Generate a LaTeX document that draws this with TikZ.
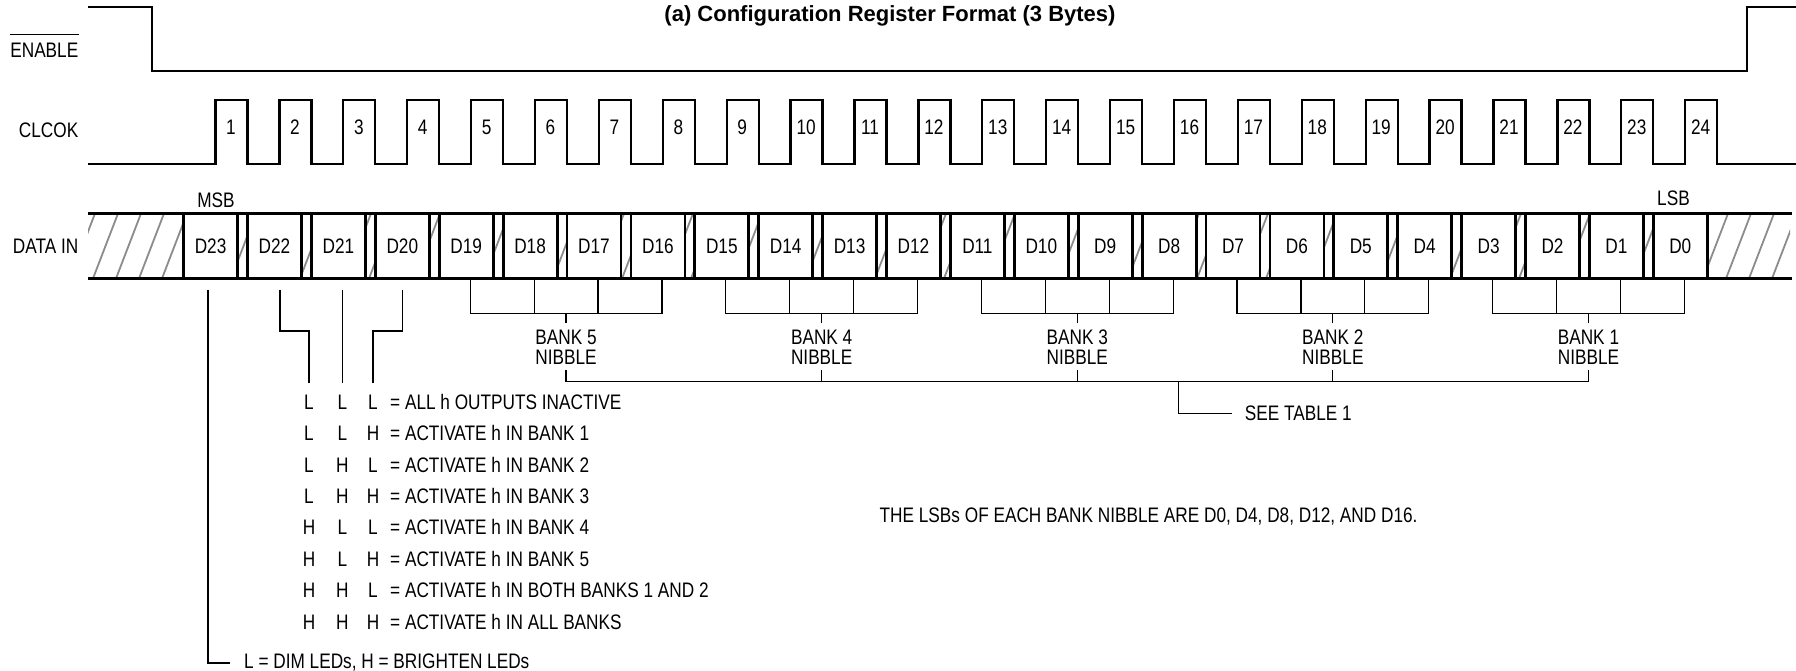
\documentclass[tikz,border=0pt]{standalone}
\usepackage{fontspec}
\setmainfont{Liberation Sans}[FakeStretch=0.82]
\newfontfamily\headfont{Liberation Sans}
\usetikzlibrary{calc}

\begin{document}
\begin{tikzpicture}[
    x=1pt, y=-1pt,
    font=\fontsize{21}{20}\selectfont,
    signal/.style={
      line width=2.3pt,
      line join=miter,
    },
    busline/.style={
      line width=2.8pt,
    },
    wire/.style={
      line width=1.2pt,
    },
    hatch/.style={
      draw=black!45,
      line width=1.8pt,
    },
    bitbox/.style={
      draw,
      fill=white,
      line width=2.8pt,
      minimum width=54pt,
      minimum height=65pt,
      inner sep=0pt,
    },
    lbl/.style={
      inner sep=0pt,
    },
    nibble/.style={
      align=center,
      inner xsep=0pt,
      inner ysep=5.9pt,
    },
  ]

  \def\per{63.9}

  \fill[white] (0,0) rectangle (1796,671);
  \useasboundingbox (0,0) rectangle (1796,671);

  % Title
  \node[lbl, anchor=base, font=\headfont\bfseries\fontsize{22}{26}\selectfont] (title) at (890,22) {(a) Configuration Register Format (3 Bytes)};

  % Signal names
  \node[lbl, anchor=east] (enlbl) at (78.5,50) {ENABLE};
  \draw[line width=1.2pt] ([yshift=8.2pt]enlbl.north west) -- ([yshift=8.2pt]enlbl.north east);
  \node[lbl, anchor=east] (cklbl) at (78.5,130) {CLCOK};
  \node[lbl, anchor=east] (dilbl) at (78.5,246.7) {DATA IN};

  % Enable
  \draw[signal] (88,6.7) -- (152,6.7) -- (152,70.7) -- (1747,70.7) -- (1747,6.7) -- (1796,6.7);

  % Clock
  \draw[signal] (88,164) \foreach \i in {0,...,23} {
      -- ({215.5+\per*\i},164) |- ({247.5+\per*\i},100) -- ({247.5+\per*\i},164)
    } -- (1796,164);
  \foreach \n in {1,...,24}
    \node[lbl] (ck\n) at ({231+\per*(\n-1)},127) {\n};

  % Data bus
  \begin{scope}
    \clip (88,213.5) rectangle (1790,278.5);
    \foreach \h in {0,...,76}
      \draw[hatch] ({70+23*\h},278.5) -- ++(25,-65);
  \end{scope}
  \draw[busline] (88,213.5) -- (1792,213.5);
  \draw[busline] (88,278.5) -- (1792,278.5);
  \foreach \i in {0,...,23} {
    \pgfmathtruncatemacro\bit{23-\i}
    \node[bitbox] (d\bit) at ({210.6+\per*\i},246) {D\bit};
  }
  \node[lbl] (msb) at (216,200) {MSB};
  \node[lbl] (lsb) at (1673.5,198) {LSB};

  % Bank nibbles
  \foreach \bk/\hi/\lo in {5/19/16, 4/15/12, 3/11/8, 2/7/4, 1/3/0} {
    \pgfmathtruncatemacro\midA{\hi-1}
    \pgfmathtruncatemacro\midB{\hi-2}
    \draw[wire] ([xshift=4pt]d\hi.south) -- ++(0,33.5) -| ([xshift=4pt]d\lo.south);
    \draw[wire] ([xshift=4pt]d\midA.south) -- ++(0,33.5);
    \draw[wire] ([xshift=4pt]d\midB.south) -- ++(0,33.5);
    \node[nibble] (bank\bk) at ($(d\hi.south)!0.5!(d\lo.south)+(4,66.9)$) {BANK \bk\\NIBBLE};
    \draw[wire] (bank\bk.north) -- ++(0,-10);
  }
  \coordinate (nib) at (0,381.7);
  \draw[wire] (bank5.south) |- (nib -| bank1.south) -- (bank1.south);
  \foreach \bk in {2,3,4}
    \draw[wire] (bank\bk.south) -- (nib -| bank\bk.south);

  \coordinate (tap) at (1178.6,381.7);
  \node[lbl, anchor=west] (seetab) at (1244.6,413.3) {SEE TABLE 1};
  \draw[wire] (tap) |- ([xshift=-12.6pt]seetab.west);

  % Truth table for D22..D20
  \foreach \pa/\pb/\pc/\desc [count=\row] in {
      L/L/L/ALL h OUTPUTS INACTIVE,
      L/L/H/ACTIVATE h IN BANK 1,
      L/H/L/ACTIVATE h IN BANK 2,
      L/H/H/ACTIVATE h IN BANK 3,
      H/L/L/ACTIVATE h IN BANK 4,
      H/L/H/ACTIVATE h IN BANK 5,
      H/H/L/ACTIVATE h IN BOTH BANKS 1 AND 2,
      H/H/H/ACTIVATE h IN ALL BANKS} {
    \node[lbl, anchor=base] (t\row-a) at (309,{409.2+31.4*(\row-1)}) {\pa};
    \node[lbl, anchor=base] (t\row-b) at (342.4,{409.2+31.4*(\row-1)}) {\pb};
    \node[lbl, anchor=base] (t\row-c) at (373,{409.2+31.4*(\row-1)}) {\pc};
    \node[lbl, anchor=base west] (t\row-txt) at (390,{409.2+31.4*(\row-1)}) {= \desc};
  }
  \draw[wire] ([xshift=5.5pt,yshift=-10pt]d22.south) -- ++(0,41) -| ([yshift=12pt]t1-a.north);
  \draw[wire] ([xshift=4pt,yshift=-10pt]d21.south) -- ([yshift=12pt]t1-b.north);
  \draw[wire] ([yshift=-10pt]d20.south) -- ++(0,41) -| ([yshift=12pt]t1-c.north);

  % D23 note
  \node[lbl, anchor=west] (dimnote) at (244,663) {L = DIM LEDs, H = BRIGHTEN LEDs};
  \draw[wire] ([xshift=-2.6pt,yshift=-10pt]d23.south) |- ([xshift=-14pt]dimnote.west);

  \node[lbl, anchor=west] (lsbnote) at (879.5,516.7) {THE LSBs OF EACH BANK NIBBLE ARE D0, D4, D8, D12, AND D16.};

\end{tikzpicture}
\end{document}
